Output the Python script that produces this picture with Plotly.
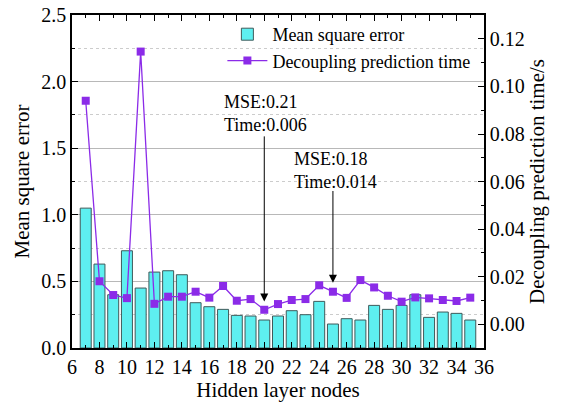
import plotly.graph_objects as go

nodes = list(range(7, 36))
mse = [1.05, 0.63, 0.40, 0.73, 0.45, 0.57, 0.58, 0.55, 0.34, 0.31,
       0.29, 0.245, 0.24, 0.21, 0.24, 0.28, 0.25, 0.35, 0.18, 0.22,
       0.21, 0.32, 0.29, 0.32, 0.40, 0.23, 0.27, 0.26, 0.21]
pred_time = [0.094, 0.018, 0.0122, 0.0109, 0.1147, 0.0085, 0.0115, 0.0115, 0.0136, 0.0111,
             0.016, 0.0098, 0.0105, 0.006, 0.0084, 0.0101, 0.0105, 0.0163, 0.0136, 0.011,
             0.0185, 0.0154, 0.0119, 0.0094, 0.0112, 0.0108, 0.0101, 0.0097, 0.0111]

x_ticks = list(range(6, 37, 2))
y_ticks = [0.0, 0.5, 1.0, 1.5, 2.0, 2.5]
y2_ticks = [0.00, 0.02, 0.04, 0.06, 0.08, 0.10, 0.12]

FONT = "Liberation Serif"
PURPLE = "#8B2BE8"
TICKFONT = dict(family=FONT, size=20, color="black")
TITLEFONT = dict(family=FONT, size=21, color="black")

fig = go.Figure()
fig.add_trace(go.Bar(
    x=nodes, y=mse, name="Mean square error", width=0.8,
    marker=dict(color="#5EEFF0", line=dict(color="#3f5a5a", width=1)),
))
fig.add_trace(go.Scatter(
    x=nodes, y=pred_time, name="Decoupling prediction time", yaxis="y2",
    mode="lines+markers",
    line=dict(color=PURPLE, width=1.3),
    marker=dict(symbol="square", size=8, color=PURPLE),
))

# annotations
fig.add_annotation(x=20, y=0.35, ax=20, ay=1.60, axref="x", ayref="y",
                   xref="x", yref="y", text="", showarrow=True,
                   arrowhead=2, arrowsize=1.6, arrowwidth=1, arrowcolor="black")
fig.add_annotation(x=25, y=0.49, ax=25, ay=1.19, axref="x", ayref="y",
                   xref="x", yref="y", text="", showarrow=True,
                   arrowhead=2, arrowsize=1.6, arrowwidth=1, arrowcolor="black")
fig.add_annotation(x=16.9, y=1.76, xref="x", yref="y", xanchor="left", yanchor="middle",
                   align="left", showarrow=False, text="MSE:0.21<br>Time:0.006",
                   font=dict(family=FONT, size=18, color="black"))
fig.add_annotation(x=22.0, y=1.33, xref="x", yref="y", xanchor="left", yanchor="middle",
                   align="left", showarrow=False, text="MSE:0.18<br>Time:0.014",
                   font=dict(family=FONT, size=18, color="black"))

fig.update_layout(
    width=563, height=403,
    margin=dict(l=72, r=79, t=15, b=55),
    paper_bgcolor="white", plot_bgcolor="white",
    font=dict(family=FONT, size=20, color="black"),
    showlegend=True,
    legend=dict(x=0.365, y=0.997, xanchor="left", yanchor="top",
                bgcolor="rgba(0,0,0,0)", font=dict(family=FONT, size=18, color="black"),
                itemwidth=40, tracegroupgap=0),
    bargap=0.2,
    xaxis=dict(
        range=[6, 36], tickvals=x_ticks, ticks="inside", ticklen=6, tickwidth=1.2,
        tickcolor="black", showline=True, linecolor="black", linewidth=1.5,
        mirror="ticks", showgrid=False, zeroline=False, tickfont=TICKFONT,
        minor=dict(dtick=1, ticks="inside", ticklen=3, tickcolor="black"),
        title=dict(text="Hidden layer nodes", font=TITLEFONT, standoff=6),
        automargin=False,
    ),
    yaxis=dict(
        range=[0, 2.5], tickvals=y_ticks, tickformat=".1f", ticks="inside",
        ticklen=6, tickwidth=1.2, tickcolor="black", tickfont=TICKFONT,
        showline=True, linecolor="black", linewidth=1.5, mirror=True,
        showgrid=True, gridcolor="#b8b8b8", gridwidth=1, zeroline=False,
        minor=dict(dtick=0.25, ticks="inside", ticklen=3, tickcolor="black",
                   showgrid=True, gridcolor="#cccccc", griddash="dot"),
        title=dict(text="Mean square error", font=TITLEFONT, standoff=6),
        automargin=False,
    ),
    yaxis2=dict(
        overlaying="y", side="right", range=[-0.0101, 0.1301],
        tickvals=y2_ticks, tickformat=".2f", ticks="inside", ticklen=6,
        tickwidth=1.2, tickcolor="black", tickfont=TICKFONT,
        showline=True, linecolor="black", linewidth=1.5,
        showgrid=False, zeroline=False,
        minor=dict(dtick=0.01, tick0=0, ticks="inside", ticklen=3, tickcolor="black"),
        title=dict(text="Decoupling prediction time/s", font=TITLEFONT, standoff=6),
        automargin=False,
    ),
)

fig.write_html("out.html", config={"displayModeBar": False},
               post_script="document.body.style.margin='0';")
